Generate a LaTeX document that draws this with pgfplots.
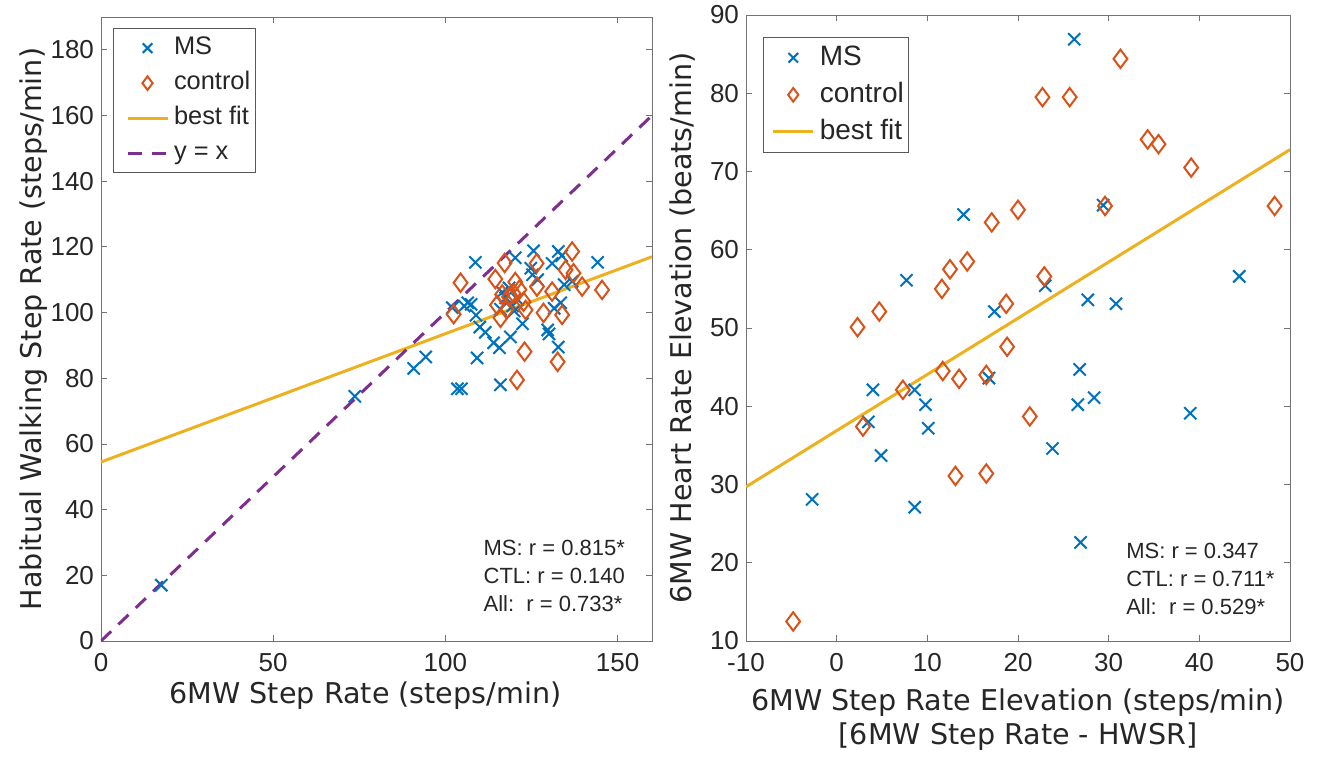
\documentclass[border=0pt]{standalone}
\usepackage{fontspec}
\setmainfont{Liberation Sans}
\newfontfamily\labelfont{DejaVu Sans}
\usepackage{pgfplots}
\pgfplotsset{compat=1.18}

\definecolor{msblue}{rgb}{0,0.447,0.741}
\definecolor{ctlorange}{rgb}{0.85,0.325,0.098}
\definecolor{fityellow}{rgb}{0.929,0.694,0.125}
\definecolor{idpurple}{rgb}{0.494,0.184,0.556}
\definecolor{axgray}{rgb}{0.15,0.15,0.15}

\pgfplotsset{
  matfig/.style={
    scale only axis,
    axis line style={black!55},
    tick align=inside, tick pos=both,
    major tick length=3pt,
    every tick/.style={black!55},
    tick label style={font=\fontsize{13}{15}\selectfont, text=axgray},
    xticklabel style={yshift=-2.5pt},
    /pgf/number format/assume math mode=true,
    label style={font=\labelfont\fontsize{14.3}{17}\selectfont, text=axgray},
    legend cell align=left,
    legend style={draw=black!65, fill=white, inner xsep=0pt, inner ysep=2pt,
      row sep=2pt, text=axgray,
      nodes={inner xsep=2.5pt, inner ysep=1.5pt, text height=9.5pt, text depth=3pt}},
  },
  msmark/.style={only marks, mark=x, mark size=4.3pt, line width=1pt, color=msblue},
  ctlmark/.style={only marks, mark=diamond, mark size=4.6pt, line width=1pt, color=ctlorange},
  markleg/.style={legend image code/.code={\path[draw=none,fill=none] (-#1,-2pt) rectangle (20pt,2pt);
      \draw[##1, mark size=3.4pt] plot coordinates {(10pt,0pt)};}},
  lineleg/.style={legend image code/.code={\path[draw=none,fill=none] (-#1,-2pt) rectangle (20pt,2pt);
      \draw[##1] (0pt,0pt) -- (20pt,0pt);}},
}

\begin{document}
\begin{tikzpicture}
\useasboundingbox (-50.5pt,-57.5pt) rectangle (613.5pt,320.5pt);

% left panel
\begin{axis}[matfig,
  at={(0pt,0pt)}, anchor=south west,
  width=275.5pt, height=312pt,
  xmin=0, xmax=160, ymin=0, ymax=190,
  xtick={0,50,100,150}, ytick={0,20,...,180},
  xlabel={6MW Step Rate (steps/min)},
  ylabel={Habitual Walking Step Rate (steps/min)},
  xlabel style={at={(axis description cs:0.48,-0.088)}, anchor=center},
  ylabel style={at={(axis description cs:-0.123,0.5)}, anchor=center},
  legend style={at={(0.022,0.982)}, anchor=north west, font=\fontsize{12.7}{14}\selectfont},
]
\addplot[msmark, markleg=7pt] coordinates {
  (17.5,17) (73.7,74.5) (90.8,83) (94.3,86.5) (103.5,76.8) (104.7,76.8)
  (108.7,115.3) (120.3,116.7) (125.6,118.8) (132.8,118.6) (133.8,117.3)
  (131,115) (144.2,115.3) (124.8,113.5) (125.3,111.5) (102,101.5)
  (106.5,103) (105.5,102) (108.9,99.2) (110,95.6) (111.6,94) (114,90.8)
  (115.7,89.3) (118.9,92.6) (122.4,96.6) (129.7,94.7) (130.1,93.5)
  (132.8,89.5) (109.2,86.2) (116,78) (116.5,106.2) (117.5,104.5)
  (119.5,102) (121,104) (131.6,101.3) (133.5,103) (134.5,108.5)
  (136.8,109.5) (126.8,110) (116,101) (118.5,107.5) (120,100.5) (107.5,102.5)
};
\addlegendentry{MS}
\addplot[ctlmark, markleg=7pt] coordinates {
  (104.4,109.1) (102.4,99.5) (114.5,110.2) (117.2,115.1) (120.3,109.3)
  (116.5,105.5) (118.5,104.8) (119.8,105.8) (115,102.3) (116,98.4)
  (122.7,103.3) (123.3,100.8) (123,88.1) (120.8,79.5) (126.5,115)
  (126.6,107.9) (131,106.4) (128.5,99.9) (133.9,99.3) (136.8,118.6)
  (134.9,113) (137.2,112) (139.7,107.9) (145.5,106.9) (132.6,85)
  (121.5,107) (117.8,101)
};
\addlegendentry{control}
\addplot[fityellow, line width=1.5pt, lineleg=7pt] coordinates {(0,54.5) (160,117)};
\addlegendentry{best fit}
\addplot[idpurple, line width=1.5pt, dash pattern=on 7pt off 5pt, lineleg=7pt] coordinates {(0,0) (160,160)};
\addlegendentry{y = x}
\node[anchor=north west, align=left, inner sep=0pt, text=axgray,
  font=\fontsize{11}{14}\selectfont] at (axis cs:111,30.8)
  {MS: r = 0.815*\\CTL: r = 0.140\\All:\ \ r = 0.733*};
\end{axis}

% right panel
\begin{axis}[matfig,
  at={(322.5pt,0pt)}, anchor=south west,
  width=272pt, height=313pt,
  xmin=-10, xmax=50, ymin=10, ymax=90,
  xtick={-10,0,...,50}, ytick={10,20,...,90},
  xlabel={6MW Step Rate Elevation (steps/min)\\{[6MW Step Rate - HWSR]}},
  ylabel={6MW Heart Rate Elevation (beats/min)},
  xlabel style={at={(axis description cs:0.5,-0.125)}, anchor=center, align=center},
  ylabel style={at={(axis description cs:-0.116,0.5)}, anchor=center},
  legend style={at={(0.031,0.965)}, anchor=north west, font=\fontsize{14}{16}\selectfont,
    nodes={text height=10.5pt, text depth=3pt}},
]
\addplot[msmark, markleg=5pt] coordinates {
  (26.2,86.9) (14.0,64.5) (7.7,56.1) (23.0,55.4) (27.7,53.6) (30.8,53.1)
  (44.4,56.6) (29.4,65.7) (17.4,52.1) (4.0,42.1) (3.5,38.0) (8.6,42.1)
  (9.8,40.2) (10.1,37.2) (4.9,33.7) (16.8,43.6) (26.8,44.7) (26.6,40.2)
  (28.4,41.1) (23.8,34.6) (39.0,39.1) (-2.7,28.1) (8.6,27.1) (26.9,22.6)
};
\addlegendentry{MS}
\addplot[ctlmark, markleg=5pt] coordinates {
  (31.3,84.4) (22.7,79.5) (25.7,79.5) (34.3,74.1) (35.5,73.5) (39.1,70.5)
  (48.3,65.6) (29.6,65.6) (20.0,65.1) (17.1,63.5) (14.4,58.5) (12.5,57.5)
  (11.6,55.0) (22.9,56.6) (4.7,52.1) (2.3,50.1) (18.7,53.1) (18.8,47.6)
  (11.7,44.5) (13.5,43.5) (16.5,44.0) (7.3,42.1) (2.9,37.4) (21.3,38.7)
  (13.1,31.1) (16.5,31.4) (-4.8,12.5)
};
\addlegendentry{control}
\addplot[fityellow, line width=1.5pt, lineleg=5pt] coordinates {(-10,29.7) (50,72.8)};
\addlegendentry{best fit}
\node[anchor=north west, align=left, inner sep=0pt, text=axgray,
  font=\fontsize{11}{14}\selectfont] at (axis cs:31.9,22.6)
  {MS: r = 0.347\\CTL: r = 0.711*\\All:\ \ r = 0.529*};
\end{axis}
\end{tikzpicture}
\end{document}
